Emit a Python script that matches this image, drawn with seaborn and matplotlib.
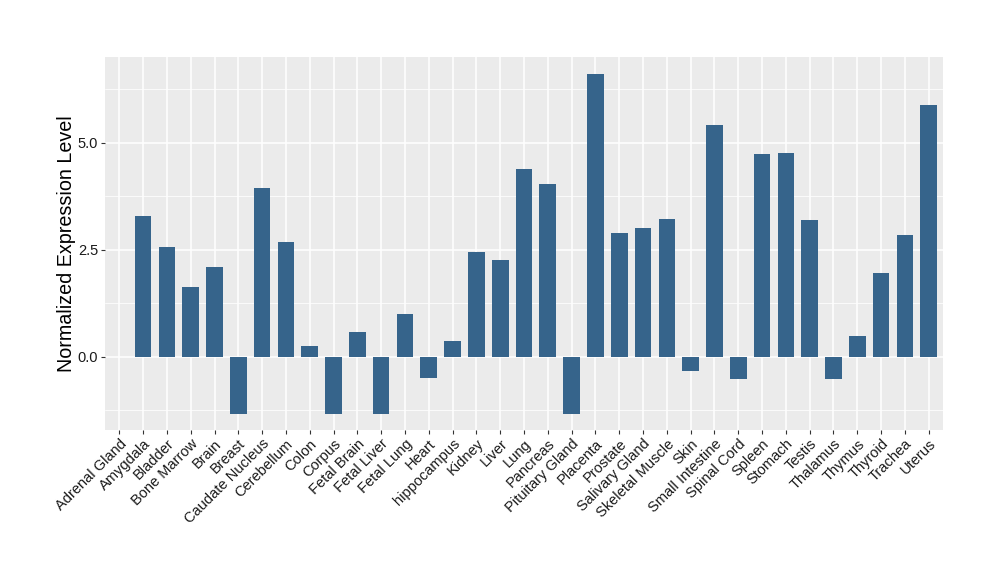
import matplotlib.pyplot as plt
import matplotlib.ticker
import pandas as pd
import seaborn as sns

tissues = [
    'Adrenal Gland', 'Amygdala', 'Bladder', 'Bone Marrow', 'Brain', 'Breast',
    'Caudate Nucleus', 'Cerebellum', 'Colon', 'Corpus', 'Fetal Brain', 'Fetal Liver',
    'Fetal Lung', 'Heart', 'hippocampus', 'Kidney', 'Liver', 'Lung', 'Pancreas',
    'Pituitary Gland', 'Placenta', 'Prostate', 'Salivary Gland', 'Skeletal Muscle',
    'Skin', 'Small Intestine', 'Spinal Cord', 'Spleen', 'Stomach', 'Testis',
    'Thalamus', 'Thymus', 'Thyroid', 'Trachea', 'Uterus',
]
expression = [
    0.0, 3.29, 2.56, 1.63, 2.09, -1.33,
    3.94, 2.68, 0.25, -1.33, 0.58, -1.33,
    1.00, -0.50, 0.37, 2.45, 2.26, 4.38, 4.03,
    -1.33, 6.60, 2.89, 3.00, 3.21,
    -0.33, 5.41, -0.52, 4.73, 4.76, 3.19,
    -0.52, 0.48, 1.96, 2.84, 5.88,
]

df = pd.DataFrame({'Tissue': tissues, 'Expression': expression})

sns.set_theme(style='darkgrid', rc={
    'axes.facecolor': '#EBEBEB',
    'grid.color': 'white',
    'axes.edgecolor': '#EBEBEB',
})
plt.rcParams['font.family'] = ['Liberation Sans', 'DejaVu Sans']

fig = plt.figure(figsize=(10, 5.8), dpi=100)
ax = fig.add_axes([0.105, 0.259, 0.838, 0.643])

sns.barplot(data=df, x='Tissue', y='Expression', color='#36648B',
            saturation=1, width=0.7, ax=ax, zorder=3,
            edgecolor='none', linewidth=0)

ax.set_xlim(-0.6, len(tissues) - 0.4)
ax.set_ylim(-1.71, 7.01)
ax.yaxis.set_major_locator(matplotlib.ticker.FixedLocator([0.0, 2.5, 5.0]))
ax.yaxis.set_major_formatter(matplotlib.ticker.FormatStrFormatter('%.1f'))
ax.yaxis.set_minor_locator(matplotlib.ticker.FixedLocator([-1.25, 1.25, 3.75, 6.25]))
ax.grid(which='major', color='white', linewidth=1.1, zorder=0)
ax.grid(which='minor', axis='y', color='white', linewidth=0.55, zorder=0)
ax.set_axisbelow(True)

ax.tick_params(axis='both', which='major', length=3, width=0.8, color='#333333',
               labelsize=10.5, labelcolor='#1A1A1A', pad=2, bottom=True, left=True)
ax.tick_params(axis='y', which='minor', length=0)
plt.setp(ax.get_xticklabels(), rotation=45, ha='right', rotation_mode='anchor')

ax.set_xlabel('')
ax.set_ylabel('Normalized Expression Level', fontsize=14.2, color='black', labelpad=1)
for s in ax.spines.values():
    s.set_visible(False)

fig.savefig('out.png', dpi=100)
